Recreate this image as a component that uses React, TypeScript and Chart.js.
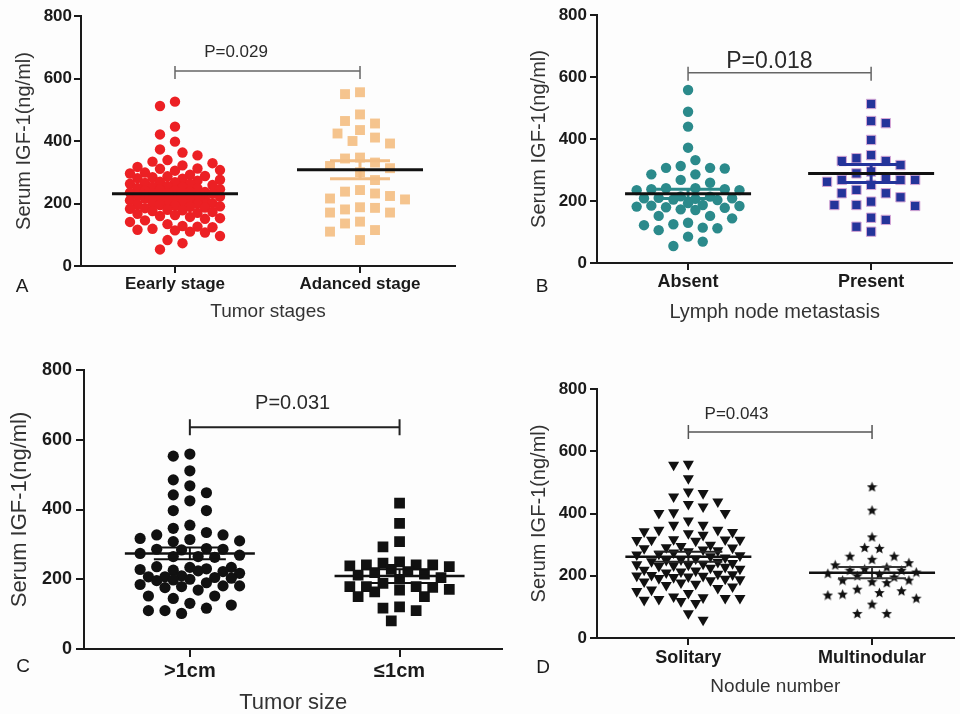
import React, { useEffect, useRef } from "react";
import { Chart, registerables } from "chart.js";

Chart.register(...registerables);

// ---------------- DATA ----------------
const yTicks = [0, 200, 400, 600, 800];
const yTitle = "Serum IGF-1(ng/ml)";
const panelLetters = ["A", "B", "C", "D"];

// Panel A
const categoriesA = ["Eearly stage", "Adanced stage"];
const earlyStage = [
  526, 512, 446, 421, 398, 373, 363, 354,
  339, 334, 329, 322, 317, 312, 311, 307, 305, 299, 296,
  292, 288, 287, 284, 281, 279, 276, 273, 270, 268,
  266, 263, 263, 259, 256, 254, 253, 250, 248, 246, 244,
  242, 241, 238, 237, 235, 233, 232, 230, 228, 226, 225, 222, 220,
  218, 216, 215, 212, 210, 207, 206, 203, 201, 199, 197, 195,
  193, 191, 189, 187, 185, 183, 180, 178, 176, 173, 170,
  167, 163, 160, 157, 153, 151, 146,
  141, 134, 128, 126, 124, 119, 116, 114,
  110, 107, 96, 83, 73, 53,
];
const advancedStage = [
  556, 550, 485, 464, 456, 435, 424, 411, 400, 392, 347, 344, 331, 320, 313,
  300, 275, 243, 238, 232, 224, 216, 213, 188, 186, 181, 171, 171, 142, 136,
  115, 110, 83,
];
const meansA = [231, 308];
const semA = [12, 29];
const pValueA = "P=0.029";
const xTitleA = "Tumor stages";

// Panel B
const categoriesB = ["Absent", "Present"];
const lnmAbsent = [
  558, 488, 440, 372, 332, 313, 307, 307, 305, 286, 286, 268, 259, 241, 241,
  238, 238, 235, 235, 215, 214, 210, 209, 209, 207, 205, 203, 193, 187, 185,
  184, 182, 180, 178, 173, 171, 152, 152, 144, 130, 125, 122, 114, 112, 106,
  85, 69, 55,
];
const lnmPresent = [
  513, 458, 451, 397, 348, 338, 329, 329, 316, 295, 289, 276, 268, 268, 268,
  262, 252, 236, 225, 225, 212, 198, 187, 187, 184, 146, 139, 117, 101,
];
const meansB = [223, 289];
const semB = [15, 29];
const pValueB = "P=0.018";
const xTitleB = "Lymph node metastasis";

// Panel C
const categoriesC = [">1cm", "≤1cm"];
const sizeOver1 = [
  559, 553, 511, 485, 468, 448, 442, 425, 397, 397, 355, 346, 334, 327, 327,
  317, 314, 310, 308, 288, 286, 286, 284, 274, 269, 265, 265, 263, 236, 234,
  234, 230, 228, 226, 224, 222, 217, 210, 207, 207, 205, 203, 200, 198, 196,
  190, 185, 181, 181, 179, 176, 169, 152, 152, 145, 131, 126, 117, 110, 110,
  102,
];
const sizeUnder1 = [
  418, 360, 308, 293, 250, 246, 241, 241, 241, 238, 236, 228, 222, 219, 215,
  212, 205, 200, 188, 179, 179, 179, 177, 171, 169, 164, 150, 150, 121, 117,
  110, 81,
];
const meansC = [274, 209];
const semC = [17, 20];
const pValueC = "P=0.031";
const xTitleC = "Tumor size";

// Panel D
const categoriesD = ["Solitary", "Multinodular"];
const solitary = [
  559, 556, 513, 470, 465, 454, 438, 430, 422, 403, 401, 401, 377, 363, 363,
  347, 347, 342, 340, 336, 331, 317, 316, 315, 315, 314, 312, 299, 295, 291,
  290, 288, 284, 281, 278, 274, 270, 268, 265, 262, 258, 255, 252, 250, 246,
  244, 240, 238, 236, 235, 233, 231, 228, 225, 222, 219, 216, 213, 210, 206,
  204, 202, 200, 199, 197, 195, 192, 190, 188, 185, 181, 178, 174, 170, 165,
  160, 155, 150, 144, 133, 130, 128, 128, 125, 122, 118, 112, 79, 58,
];
const multinodular = [
  486, 411, 325, 291, 288, 263, 263, 253, 242, 235, 228, 222, 218, 218, 212,
  208, 205, 200, 196, 186, 186, 181, 178, 157, 152, 146, 141, 138, 128, 109,
  79, 79,
];
const meansD = [261, 210];
const semD = [16, 18];
const pValueD = "P=0.043";
const xTitleD = "Nodule number";

// ---------------- STYLE / LAYOUT ----------------
const FONT = "'Liberation Sans', Arial, Helvetica, sans-serif";

type Marker = {
  style: any;
  radius: number;
  color: string;
  border?: string;
  borderWidth?: number;
  rotation?: number;
  d: number;      // preferred centre-to-centre distance (px)
  step: number;   // candidate offset step (px)
  maxHalf: number; // maximum half width of the swarm (px)
};

type Panel = {
  letter: string;
  cats: string[];
  groups: number[][];
  means: number[];
  sems: number[];
  pValue: string;
  xTitle: string;
  left: number; top: number; width: number; height: number;
  padTop: number; padRight: number; yAxisW: number; xAxisH: number;
  xMin: number; xMax: number;
  yTickFont: number; yTickLen: number; yTickPad: number;
  xTickFont: number; xTickLen: number; xTickPad: number;
  xTitleFont: number; xTitlePadBottom: number; xTitleLH: number;
  yTitleFont: number; yTitlePadTop: number;
  markers: Marker[];
  meanHalf: number; meanWidth: number; capHalf: number; semColors: string[]; semWidth: number;
  bracketY: number; bracketUp: number; bracketDown: number; bracketColor: string; bracketWidth: number;
  pFont: number; pX: number; pY: number;
  letterX: number; letterY: number; letterFont: number;
};

function makeStar(size: number, color: string) {
  const c = document.createElement("canvas");
  c.width = size;
  c.height = size;
  const g = c.getContext("2d")!;
  g.fillStyle = color;
  g.beginPath();
  const cx = size / 2, cy = size / 2 + 0.5, R = size / 2, r = R * 0.45;
  for (let i = 0; i < 10; i++) {
    const a = -Math.PI / 2 + (i * Math.PI) / 5;
    const rr = i % 2 === 0 ? R : r;
    g.lineTo(cx + rr * Math.cos(a), cy + rr * Math.sin(a));
  }
  g.closePath();
  g.fill();
  return c;
}

// Beeswarm with a width limit: first free slot nearest the centre, otherwise the slot with least overlap
function swarm(values: number[], center: number, xppu: number, yppu: number, m: Marker) {
  const order = values.map((_, i) => i).sort((a, b) => values[b] - values[a]);
  const cands: number[] = [0];
  for (let k = 1; k * m.step <= m.maxHalf + 0.01; k++) cands.push(k * m.step, -k * m.step);
  const placed: { px: number; py: number }[] = [];
  const out: { x: number; y: number }[] = new Array(values.length);
  let flip = 1;
  for (const i of order) {
    const py = values[i] * yppu;
    let best = 0, bestD = -1;
    for (const c0 of cands) {
      const c = c0 * flip;
      let minD = Infinity;
      for (const p of placed) {
        const dy = p.py - py;
        if (Math.abs(dy) >= m.d) continue;
        const dx = p.px - c;
        const dd = Math.sqrt(dx * dx + dy * dy);
        if (dd < minD) minD = dd;
      }
      if (minD >= m.d) { best = c; bestD = minD; break; }
      if (minD > bestD + 0.5) { bestD = minD; best = c; }
    }
    placed.push({ px: best, py });
    out[i] = { x: center + best / xppu, y: values[i] };
    flip = -flip;
  }
  return out;
}

function buildPanels(star: HTMLCanvasElement): Panel[] {
  return [
    {
      letter: panelLetters[0], cats: categoriesA, groups: [earlyStage, advancedStage],
      means: meansA, sems: semA, pValue: pValueA, xTitle: xTitleA,
      left: 0, top: 0, width: 480, height: 340,
      padTop: 16, padRight: 25, yAxisW: 81, xAxisH: 74,
      xMin: 0.492, xMax: 2.5134,
      yTickFont: 17, yTickLen: 7, yTickPad: 2,
      xTickFont: 17, xTickLen: 7, xTickPad: 1,
      xTitleFont: 19, xTitlePadBottom: 16.6, xTitleLH: 1.2,
      yTitleFont: 20, yTitlePadTop: 12,
      markers: [
        { style: "circle", radius: 5.2, color: "#ec2024", d: 12, step: 7.5, maxHalf: 49 },
        { style: "rect", radius: 7, color: "#f5c48e", d: 13, step: 7.5, maxHalf: 46 },
      ],
      meanHalf: 63, meanWidth: 3, capHalf: 30, semColors: ["#ec2024", "#f2bd85"], semWidth: 3,
      bracketY: 624, bracketUp: 5, bracketDown: 8, bracketColor: "#666", bracketWidth: 1.5,
      pFont: 17, pX: 1.33, pY: 685,
      letterX: 22, letterY: 287, letterFont: 19,
    },
    {
      letter: panelLetters[1], cats: categoriesB, groups: [lnmAbsent, lnmPresent],
      means: meansB, sems: semB, pValue: pValueB, xTitle: xTitleB,
      left: 480, top: 0, width: 480, height: 340,
      padTop: 15, padRight: 0, yAxisW: 117, xAxisH: 77,
      xMin: 0.5026, xMax: 2.444,
      yTickFont: 17, yTickLen: 7, yTickPad: 3,
      xTickFont: 18, xTickLen: 7, xTickPad: 1.2,
      xTitleFont: 20, xTitlePadBottom: 16, xTitleLH: 1.2,
      yTitleFont: 20, yTitlePadTop: 47,
      markers: [
        { style: "circle", radius: 5.2, color: "#2b8a8b", d: 12.5, step: 7.5, maxHalf: 53 },
        { style: "rect", radius: 6.6, color: "#24349a", border: "#d7a7d6", borderWidth: 1, d: 13, step: 7.5, maxHalf: 45 },
      ],
      meanHalf: 63, meanWidth: 3, capHalf: 32, semColors: ["#2b8a8b", "#24349a"], semWidth: 3,
      bracketY: 614, bracketUp: 6, bracketDown: 8, bracketColor: "#666", bracketWidth: 1.5,
      pFont: 23, pX: 1.444, pY: 648,
      letterX: 62, letterY: 287, letterFont: 19,
    },
    {
      letter: panelLetters[2], cats: categoriesC, groups: [sizeOver1, sizeUnder1],
      means: meansC, sems: semC, pValue: pValueC, xTitle: xTitleC,
      left: 0, top: 350, width: 510, height: 364,
      padTop: 20, padRight: 7, yAxisW: 84, xAxisH: 65,
      xMin: 0.4952, xMax: 2.4904,
      yTickFont: 18, yTickLen: 8, yTickPad: 4,
      xTickFont: 20, xTickLen: 8, xTickPad: 2,
      xTitleFont: 22, xTitlePadBottom: 0, xTitleLH: 1.0,
      yTitleFont: 22, yTitlePadTop: 6.8,
      markers: [
        { style: "circle", radius: 5.6, color: "#111111", d: 13.5, step: 8.3, maxHalf: 58 },
        { style: "rect", radius: 7.6, color: "#111111", d: 14, step: 8.3, maxHalf: 50 },
      ],
      meanHalf: 65, meanWidth: 2.5, capHalf: 36, semColors: ["#111111", "#111111"], semWidth: 2,
      bracketY: 636, bracketUp: 8, bracketDown: 8, bracketColor: "#222", bracketWidth: 2,
      pFont: 20, pX: 1.49, pY: 705,
      letterX: 23, letterY: 317, letterFont: 19,
    },
    {
      letter: panelLetters[3], cats: categoriesD, groups: [solitary, multinodular],
      means: meansD, sems: semD, pValue: pValueD, xTitle: xTitleD,
      left: 480, top: 350, width: 480, height: 364,
      padTop: 39, padRight: 0, yAxisW: 117, xAxisH: 76,
      xMin: 0.5026, xMax: 2.444,
      yTickFont: 17, yTickLen: 7, yTickPad: 3,
      xTickFont: 18, xTickLen: 7, xTickPad: 2,
      xTitleFont: 19, xTitlePadBottom: 15.6, xTitleLH: 1.2,
      yTitleFont: 20, yTitlePadTop: 47,
      markers: [
        { style: "triangle", radius: 6.4, color: "#111111", rotation: 180, d: 12, step: 7.5, maxHalf: 53 },
        { style: star, radius: 5, color: "#111111", d: 12, step: 7.5, maxHalf: 45 },
      ],
      meanHalf: 63, meanWidth: 2.5, capHalf: 34, semColors: ["#222222", "#333333"], semWidth: 2,
      bracketY: 662, bracketUp: 7, bracketDown: 7, bracketColor: "#555", bracketWidth: 1.5,
      pFont: 17, pX: 1.262, pY: 720,
      letterX: 63, letterY: 318, letterFont: 19,
    },
  ];
}

function makeConfig(p: Panel): any {
  const areaW = p.width - p.padRight - p.yAxisW;
  const areaH = p.height - p.padTop - p.xAxisH;
  const xppu = areaW / (p.xMax - p.xMin);
  const yppu = areaH / 800;

  const datasets = p.groups.map((vals, gi) => {
    const m = p.markers[gi];
    return {
      data: swarm(vals, gi + 1, xppu, yppu, m),
      pointStyle: m.style,
      pointRadius: m.radius,
      pointRotation: m.rotation || 0,
      backgroundColor: m.color,
      borderColor: m.border || m.color,
      borderWidth: m.borderWidth || 0,
      pointHoverRadius: m.radius,
    };
  });

  const overlay = {
    id: "overlay" + p.letter,
    afterDatasetsDraw(chart: any) {
      const { ctx } = chart;
      const xs = chart.scales.x;
      const ys = chart.scales.y;
      ctx.save();
      ctx.lineCap = "butt";
      for (let i = 0; i < 2; i++) {
        const cx = xs.getPixelForValue(i + 1);
        const my = ys.getPixelForValue(p.means[i]);
        const ty = ys.getPixelForValue(p.means[i] + p.sems[i]);
        const by = ys.getPixelForValue(p.means[i] - p.sems[i]);
        ctx.strokeStyle = p.semColors[i];
        ctx.lineWidth = p.semWidth;
        ctx.beginPath();
        ctx.moveTo(cx - p.capHalf, ty); ctx.lineTo(cx + p.capHalf, ty);
        ctx.moveTo(cx - p.capHalf, by); ctx.lineTo(cx + p.capHalf, by);
        ctx.moveTo(cx, ty); ctx.lineTo(cx, by);
        ctx.stroke();
        ctx.strokeStyle = "#111";
        ctx.lineWidth = p.meanWidth;
        ctx.beginPath();
        ctx.moveTo(cx - p.meanHalf, my); ctx.lineTo(cx + p.meanHalf, my);
        ctx.stroke();
      }
      // significance bracket
      const bx1 = xs.getPixelForValue(1);
      const bx2 = xs.getPixelForValue(2);
      const byb = ys.getPixelForValue(p.bracketY);
      ctx.strokeStyle = p.bracketColor;
      ctx.lineWidth = p.bracketWidth;
      ctx.beginPath();
      ctx.moveTo(bx1, byb); ctx.lineTo(bx2, byb);
      ctx.moveTo(bx1, byb - p.bracketUp); ctx.lineTo(bx1, byb + p.bracketDown);
      ctx.moveTo(bx2, byb - p.bracketUp); ctx.lineTo(bx2, byb + p.bracketDown);
      ctx.stroke();
      // p value
      ctx.fillStyle = "#2a2a2a";
      ctx.font = `${p.pFont}px ${FONT}`;
      ctx.textAlign = "center";
      ctx.textBaseline = "middle";
      ctx.fillText(p.pValue, xs.getPixelForValue(p.pX), ys.getPixelForValue(p.pY));
      // panel letter
      ctx.fillStyle = "#1a1a1a";
      ctx.font = `${p.letterFont}px ${FONT}`;
      ctx.fillText(p.letter, p.letterX, p.letterY);
      ctx.restore();
    },
  };

  return {
    type: "scatter",
    data: { datasets },
    options: {
      animation: false,
      responsive: false,
      maintainAspectRatio: false,
      events: [],
      layout: { padding: { top: p.padTop, right: p.padRight, left: 0, bottom: 0 } },
      plugins: { legend: { display: false }, tooltip: { enabled: false } },
      scales: {
        x: {
          type: "linear",
          min: p.xMin,
          max: p.xMax,
          afterFit: (s: any) => { s.height = p.xAxisH; },
          afterBuildTicks: (s: any) => { s.ticks = [{ value: 1 }, { value: 2 }]; },
          ticks: {
            autoSkip: false,
            maxRotation: 0,
            padding: p.xTickPad,
            color: "#1a1a1a",
            font: { family: FONT, size: p.xTickFont, weight: "bold" },
            callback: (v: number) => p.cats[Math.round(v) - 1] ?? "",
          },
          grid: {
            display: true,
            drawOnChartArea: false,
            drawTicks: true,
            tickLength: p.xTickLen,
            color: "#1a1a1a",
            lineWidth: 2,
          },
          border: { display: true, color: "#1a1a1a", width: 2 },
          title: {
            display: true,
            text: p.xTitle,
            color: "#333",
            font: { family: FONT, size: p.xTitleFont, lineHeight: p.xTitleLH },
            padding: { top: 0, bottom: p.xTitlePadBottom },
          },
        },
        y: {
          type: "linear",
          min: 0,
          max: 800,
          afterFit: (s: any) => { s.width = p.yAxisW; },
          afterBuildTicks: (s: any) => { s.ticks = yTicks.map((v) => ({ value: v })); },
          ticks: {
            padding: p.yTickPad,
            color: "#1a1a1a",
            font: { family: FONT, size: p.yTickFont, weight: "bold" },
          },
          grid: {
            display: true,
            drawOnChartArea: false,
            drawTicks: true,
            tickLength: p.yTickLen,
            color: "#1a1a1a",
            lineWidth: 2,
          },
          border: { display: true, color: "#1a1a1a", width: 2 },
          title: {
            display: true,
            text: yTitle,
            color: "#333",
            font: { family: FONT, size: p.yTitleFont },
            padding: { top: p.yTitlePadTop, bottom: 0 },
          },
        },
      },
    },
    plugins: [overlay],
  };
}

const LAYOUT = [
  { left: 0, top: 0, width: 480, height: 340 },
  { left: 480, top: 0, width: 480, height: 340 },
  { left: 0, top: 350, width: 510, height: 364 },
  { left: 480, top: 350, width: 480, height: 364 },
];

export default function App() {
  const refs = [useRef<HTMLCanvasElement>(null), useRef<HTMLCanvasElement>(null), useRef<HTMLCanvasElement>(null), useRef<HTMLCanvasElement>(null)];

  useEffect(() => {
    const star = makeStar(11, "#111111");
    const panels = buildPanels(star);
    const charts = panels.map((p, i) => new Chart(refs[i].current!, makeConfig(p)));
    return () => charts.forEach((c) => c.destroy());
  }, []);

  return (
    <div
      style={{
        position: "absolute",
        left: 0,
        top: 0,
        width: 960,
        height: 714,
        overflow: "hidden",
        background: "#fdfdfd",
      }}
    >
      {LAYOUT.map((l, i) => (
        <canvas
          key={i}
          ref={refs[i]}
          width={l.width}
          height={l.height}
          style={{ position: "absolute", left: l.left, top: l.top, width: l.width, height: l.height }}
        />
      ))}
    </div>
  );
}
